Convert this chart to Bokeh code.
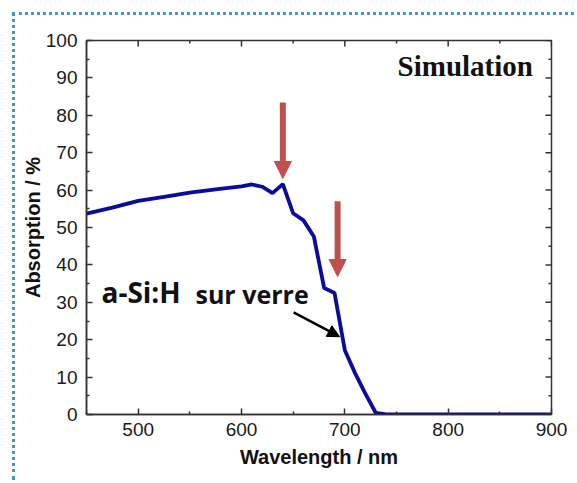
import math
from bokeh.plotting import figure
from bokeh.models import (FixedTicker, Range1d, Arrow, NormalHead,
                          Label, ColumnDataSource)
from bokeh.embed import file_html
from bokeh.resources import INLINE

# ---- data ----
wavelength = [450, 475, 500, 525, 550, 575, 600, 610, 620, 630, 640, 650, 660,
              670, 680, 690, 700, 710, 720, 730, 740, 750, 800, 850, 900]
absorption = [53.7, 55.3, 57.1, 58.2, 59.3, 60.2, 61.0, 61.5, 60.9, 59.2, 61.6,
              53.8, 51.9, 47.6, 33.8, 32.5, 17.2, 11.0, 5.5, 0.4, 0.0, 0.0,
              0.0, 0.0, 0.0]
x_major = [500, 600, 700, 800, 900]
x_minor = [450, 550, 650, 750, 850]
y_major = [0, 10, 20, 30, 40, 50, 60, 70, 80, 90, 100]
y_minor = [5, 15, 25, 35, 45, 55, 65, 75, 85, 95]
x_lo, x_hi = 450, 900
y_lo, y_hi = 0, 100
# red arrows: x position, top, tip (data units)
red_arrow_x = [640, 693]
red_arrow_top = [83.4, 57.0]
red_arrow_tip = [63.1, 36.9]
# black arrow: start -> end
black_arrow = (650.4, 27.3, 695.0, 20.8)

OFF = 15  # css border offset
p = figure(width=577 - OFF, height=483 - OFF, output_backend="svg",
           toolbar_location=None, x_range=Range1d(x_lo, x_hi),
           y_range=Range1d(y_lo, y_hi),
           min_border_left=86 - OFF, min_border_right=26,
           min_border_top=40 - OFF, min_border_bottom=69,
           background_fill_color="white", border_fill_color="white",
           styles={"margin-left": "12px", "margin-top": "12px",
                   "border-left": "3px dotted #4599aa",
                   "border-top": "3px dotted #4599aa"})
p.grid.visible = False
p.outline_line_color = "#333333"
p.outline_line_width = 1.5

src = ColumnDataSource(dict(x=wavelength, y=absorption))
p.line("x", "y", source=src, line_color="#0A0A9C", line_width=3.8)

def style_axis(ax):
    ax.axis_line_color = "#333333"
    ax.axis_line_width = 1.5
    ax.major_tick_line_color = "#333333"
    ax.minor_tick_line_color = "#333333"
    ax.major_tick_line_width = 1.5
    ax.minor_tick_line_width = 1.5
    ax.major_tick_in = 6
    ax.major_tick_out = 0
    ax.minor_tick_in = 3
    ax.minor_tick_out = 0
    ax.major_label_text_font = "Liberation Sans"
    ax.major_label_text_font_size = "19px"
    ax.major_label_text_color = "#1a1a1a"
    ax.axis_label_text_font = "Liberation Sans"
    ax.axis_label_text_font_style = "bold"
    ax.axis_label_text_font_size = "20px"
    ax.axis_label_text_color = "#111111"

xa = p.xaxis[0]
xa.ticker = FixedTicker(ticks=x_major, minor_ticks=x_minor)
style_axis(xa)
xa.axis_label = "Wavelength / nm"
xa.major_label_standoff = 8
xa.axis_label_standoff = 7

ya = p.yaxis[0]
ya.ticker = FixedTicker(ticks=y_major, minor_ticks=y_minor)
style_axis(ya)
ya.axis_label = "Absorption / %"
ya.major_label_standoff = 9
ya.axis_label_standoff = -1

# inward ticks on top and right frame edges
tick_col = "#333333"
p.ray(x=x_major, y=[y_hi] * len(x_major), length=6, angle=-math.pi / 2,
      length_units="screen", line_color=tick_col, line_width=1.5)
p.ray(x=x_minor, y=[y_hi] * len(x_minor), length=3, angle=-math.pi / 2,
      length_units="screen", line_color=tick_col, line_width=1.5)
p.ray(x=[x_hi] * len(y_major), y=y_major, length=6, angle=math.pi,
      length_units="screen", line_color=tick_col, line_width=1.5)
p.ray(x=[x_hi] * len(y_minor), y=y_minor, length=3, angle=math.pi,
      length_units="screen", line_color=tick_col, line_width=1.5)

# red arrows
red = "#C0504D"
for xa_, yt, yp in zip(red_arrow_x, red_arrow_top, red_arrow_tip):
    p.segment(x0=[xa_], y0=[yt], x1=[xa_], y1=[yp + 4.0], line_color=red,
              line_width=6)
    p.add_layout(Arrow(end=NormalHead(size=17, fill_color=red, line_color=red,
                                      line_width=1),
                       x_start=xa_, y_start=yp + 5, x_end=xa_, y_end=yp,
                       line_alpha=0))

# black arrow
bx0, by0, bx1, by1 = black_arrow
p.add_layout(Arrow(end=NormalHead(size=12, fill_color="black",
                                  line_color="black", line_width=1),
                   x_start=bx0, y_start=by0, x_end=bx1, y_end=by1,
                   line_color="black", line_width=2.5))

p.add_layout(Label(x=464.5, y=27.6, text="a-Si:H", text_font="Open Sans",
                   text_font_style="bold", text_font_size="28px",
                   text_color="#111111"))
p.add_layout(Label(x=555.5, y=27.8, text="sur verre", text_font="Open Sans",
                   text_font_style="bold", text_font_size="25px",
                   text_color="#111111"))
p.add_layout(Label(x=751, y=89.0, text="Simulation",
                   text_font="Liberation Serif", text_font_style="bold",
                   text_font_size="29px", text_color="#111111"))

open("out.html", "w").write(file_html(p, INLINE))
